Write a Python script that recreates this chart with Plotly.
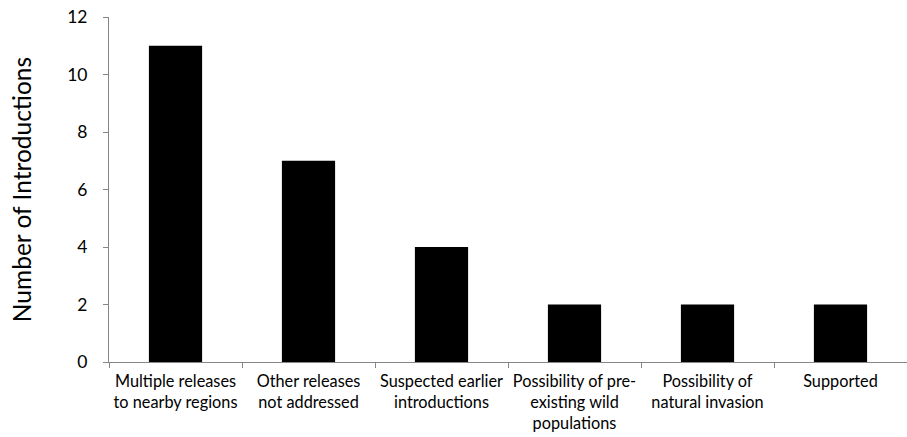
import plotly.graph_objects as go

categories = [
    "Multiple releases<br>to nearby regions",
    "Other releases<br>not addressed",
    "Suspected earlier<br>introductions",
    "Possibility of pre-<br>existing wild<br>populations",
    "Possibility of<br>natural invasion",
    "Supported",
]
values = [11, 7, 4, 2, 2, 2]
y_ticks = [0, 2, 4, 6, 8, 10, 12]

FONT = "Lato, Open Sans, sans-serif"

fig = go.Figure(go.Bar(x=categories, y=values, marker_color="black",
                       marker_line_width=0, width=0.4))

fig.update_layout(
    width=907, height=437,
    margin=dict(l=109, r=0, t=17, b=75),
    plot_bgcolor="white", paper_bgcolor="white",
    showlegend=False,
    font=dict(family=FONT, color="black"),
)
fig.update_xaxes(
    type="category", range=[-0.5, 5.5], automargin=False,
    showline=True, linecolor="#868686", linewidth=1,
    ticks="outside", tickson="boundaries", ticklen=5, tickcolor="#868686",
    tickfont=dict(size=16.3, family=FONT, color="black"),
    tickangle=0,
    ticklabelstandoff=4,
    showgrid=False, zeroline=False,
)
fig.update_yaxes(
    range=[0, 12], tickvals=y_ticks, automargin=False,
    showline=True, linecolor="#868686", linewidth=1,
    ticks="outside", ticklen=5, tickcolor="#868686",
    tickfont=dict(size=17.5, family=FONT, color="black"),
    ticklabelstandoff=12,
    showgrid=False, zeroline=False,
    title=dict(text="Number of Introductions", font=dict(size=24.5, family=FONT, color="black"), standoff=28),
)

fig.write_html("out.html", config={"displayModeBar": False},
               post_script="document.body.style.margin='0';document.body.style.padding='0';")
